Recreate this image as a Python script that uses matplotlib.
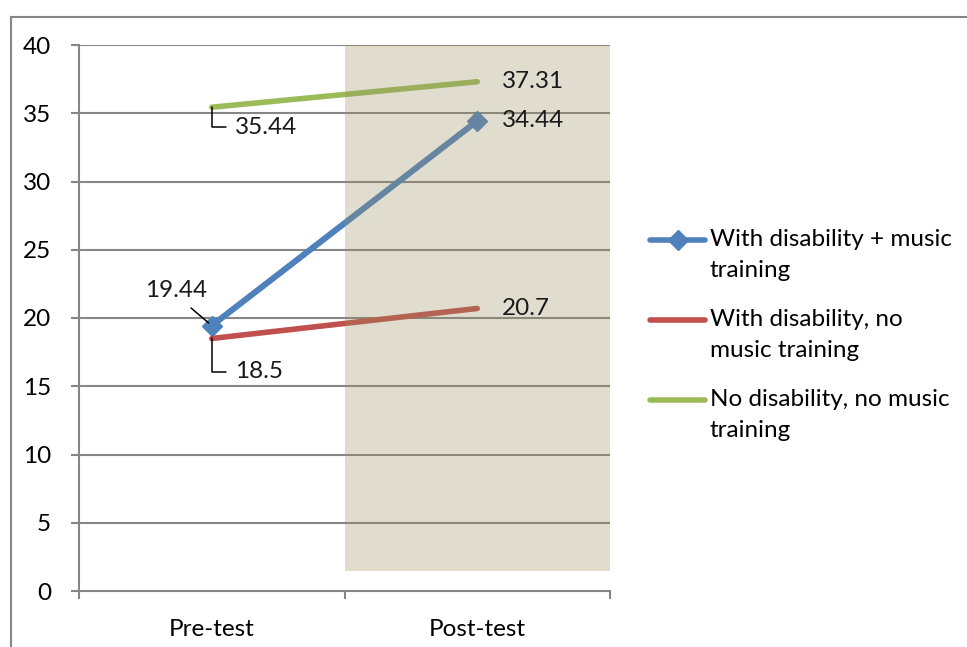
import matplotlib.pyplot as plt
from matplotlib.lines import Line2D
from matplotlib.patches import Rectangle

plt.rcParams['font.family'] = ['Lato', 'DejaVu Sans']

phases = ['Pre-test', 'Post-test']
series_names = [
    'With disability + music\ntraining',
    'With disability, no\nmusic training',
    'No disability, no music\ntraining',
]
music_group = [19.44, 34.44]
no_music_group = [18.5, 20.7]
control_group = [35.44, 37.31]
colors = ['#4F81BD', '#C0504D', '#9BBB59']
y_ticks = [0, 5, 10, 15, 20, 25, 30, 35, 40]

fig = plt.figure(figsize=(9.67, 6.47), dpi=100)
ax = fig.add_axes([79 / 967, 56 / 647, 531 / 967, 546 / 647])

x = [0, 1]
grid_col = '#868686'
fs = 17.5
for yv in y_ticks[1:]:
    ax.axhline(yv, color=grid_col, lw=1.5, zorder=1)

ax.plot(x, music_group, color=colors[0], lw=4.4, marker='D', ms=10,
        solid_capstyle='round', zorder=3)
ax.plot(x, no_music_group, color=colors[1], lw=4.0, solid_capstyle='round', zorder=3)
ax.plot(x, control_group, color=colors[2], lw=4.0, solid_capstyle='round', zorder=3)

# translucent band over the post-test period
ax.add_patch(Rectangle((0.5, 1.5), 1.0, 38.5, facecolor='#9B9162', alpha=0.3,
                       edgecolor='none', zorder=4))

lab = dict(fontsize=fs, color='#1a1a1a', zorder=5)
# pre-test labels with leader lines
ax.annotate(f'{music_group[0]:.2f}', xy=(0, music_group[0]), xytext=(-25.5, 25.5),
            textcoords='offset points', ha='center', va='center',
            arrowprops=dict(arrowstyle='-', color='black', lw=1.1, relpos=(0.6, 0),
                            shrinkA=5, shrinkB=3), **lab)
ax.annotate(f'{no_music_group[0]}', xy=(0, no_music_group[0]), xytext=(17, -24),
            textcoords='offset points', ha='left', va='center',
            arrowprops=dict(arrowstyle='-', color='black', lw=1.1, relpos=(0, 0.5),
                            connectionstyle='angle,angleA=180,angleB=90,rad=0',
                            shrinkA=5, shrinkB=0), **lab)
ax.annotate(f'{control_group[0]:.2f}', xy=(0, control_group[0]), xytext=(17, -14.5),
            textcoords='offset points', ha='left', va='center',
            arrowprops=dict(arrowstyle='-', color='black', lw=1.1, relpos=(0, 0.5),
                            connectionstyle='angle,angleA=180,angleB=90,rad=0',
                            shrinkA=5, shrinkB=0), **lab)
# post-test labels
for vals in (control_group, music_group, no_music_group):
    ax.annotate(f'{vals[1]:g}', xy=(1, vals[1]), xytext=(18, 0),
                textcoords='offset points', ha='left', va='center', **lab)

ax.set_xlim(-0.5, 1.5)
ax.set_ylim(0, 40)
ax.set_yticks(y_ticks)
ax.set_xticks([-0.5, 0.5, 1.5])
ax.set_xticklabels([])
ax.set_xticks(x, minor=True)
ax.set_xticklabels(phases, minor=True, fontsize=fs)
ax.tick_params(axis='x', which='minor', length=0, pad=20)
ax.tick_params(axis='x', which='major', length=6, width=1.5, color=grid_col)
ax.tick_params(axis='y', length=6, width=1.5, color=grid_col, pad=14, labelsize=fs)
for side in ('top', 'right'):
    ax.spines[side].set_visible(False)
for side in ('left', 'bottom'):
    ax.spines[side].set_color(grid_col)
    ax.spines[side].set_linewidth(1.5)

# legend drawn beside the plot, key aligned with first text line
W, H = 967, 647
for i, (name, col) in enumerate(zip(series_names, colors)):
    yk = 1 - (240 + 80 * i) / H
    fig.add_artist(Line2D([650 / W, 705 / W], [yk, yk], color=col, lw=4.0,
                          solid_capstyle='round'))
    if i == 0:
        fig.add_artist(Line2D([677.5 / W], [yk], color=col, marker='D', ms=10))
    fig.text(710 / W, yk + 11 / H, name, fontsize=fs, va='top', ha='left',
             linespacing=1.6)

# outer chart frame
fig.add_artist(Rectangle((10.5 / W, -0.05), 1.0, 1.05 - 16.5 / H, transform=fig.transFigure,
                         fill=False, edgecolor=grid_col, lw=1.5))

fig.savefig('out.png', dpi=100)
